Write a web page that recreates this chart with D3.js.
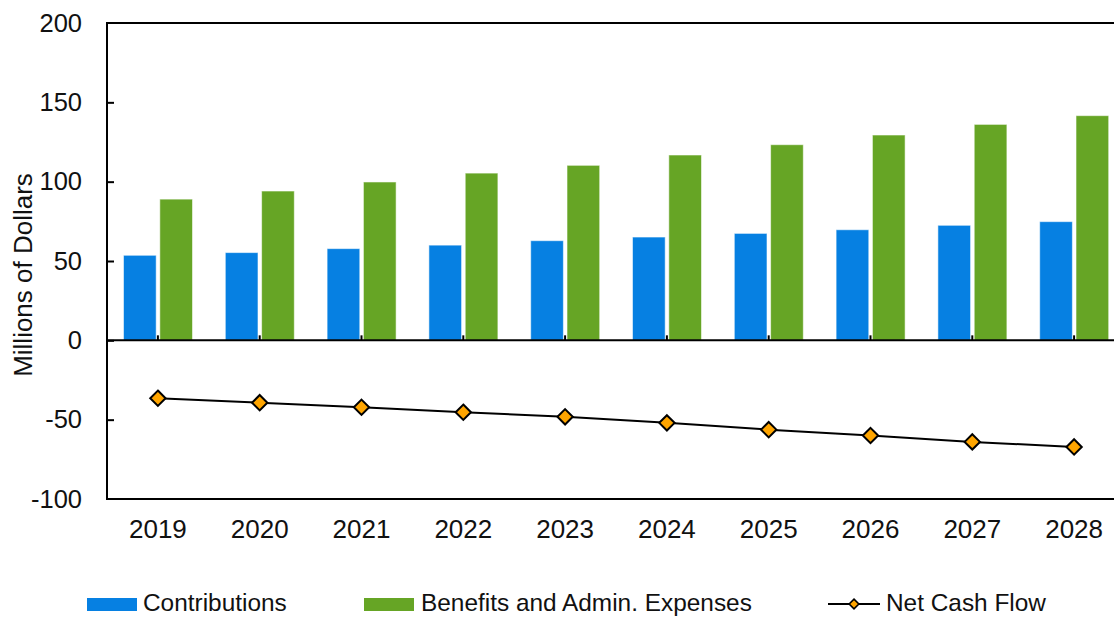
<!DOCTYPE html>
<html>
<head>
<meta charset="utf-8">
<script src="https://cdn.jsdelivr.net/npm/d3@7"></script>
<style>
  html, body { margin: 0; padding: 0; background: #fff; }
  svg { display: block; font-family: "Liberation Sans", Arial, sans-serif; }
</style>
</head>
<body>
<svg id="chart" width="1114" height="618"></svg>
<script>
// Projected cash flows, millions of dollars
const years = ["2019", "2020", "2021", "2022", "2023", "2024", "2025", "2026", "2027", "2028"];
const contributions = [53.6, 55.3, 57.8, 60.0, 62.8, 65.1, 67.4, 69.7, 72.5, 74.8];
const benefits = [89.0, 94.1, 99.8, 105.4, 110.3, 116.8, 123.3, 129.4, 136.1, 141.6];
const netCashFlow = [-36.5, -39.3, -42.2, -45.3, -48.2, -52.0, -56.3, -60.0, -64.0, -67.2];
const yTicks = [-100, -50, 0, 50, 100, 150, 200];

const seriesNames = ["Contributions", "Benefits and Admin. Expenses", "Net Cash Flow"];
const colors = { contrib: "#0680E2", benefits: "#66A525", marker: "#FFA500" };

const svg = d3.select("#chart");
const plotLeft = 107, plotTop = 23, plotBottom = 499, step = 101.8;
const plotRight = plotLeft + step * years.length;

const x = d3.scaleBand().domain(years).range([plotLeft, plotRight]).padding(0);
const inner = d3.scaleBand().domain(["c", "b"]).range([16.5, 85.5]).paddingInner(0.1);
const y = d3.scaleLinear().domain([-100, 200]).range([plotBottom, plotTop]);

// Bars
const barData = years.flatMap((yr, i) => [
  { yr, key: "c", v: contributions[i], fill: colors.contrib },
  { yr, key: "b", v: benefits[i], fill: colors.benefits }
]);
svg.append("g").selectAll("rect").data(barData).join("rect")
  .attr("x", d => x(d.yr) + inner(d.key))
  .attr("y", d => y(Math.max(0, d.v)))
  .attr("width", inner.bandwidth())
  .attr("height", d => Math.abs(y(d.v) - y(0)))
  .attr("fill", d => d.fill)
  .attr("stroke", "rgba(255,255,255,0.55)")
  .attr("stroke-width", 1);

// Plot frame
svg.append("rect")
  .attr("x", plotLeft).attr("y", plotTop)
  .attr("width", plotRight - plotLeft).attr("height", plotBottom - plotTop)
  .attr("fill", "none").attr("stroke", "#000").attr("stroke-width", 2);

// Y axis (ticks inward), plain hyphen for negatives
const yAxis = d3.axisLeft(y).tickValues(yTicks).tickSize(-7).tickPadding(25)
  .tickFormat(d => String(d));
const gy = svg.append("g").attr("transform", `translate(${plotLeft},0)`).call(yAxis);
gy.select(".domain").remove();
gy.selectAll(".tick line").attr("stroke", "#000").attr("stroke-width", 2)
  .filter(d => d === -100 || d === 200).remove();
gy.selectAll(".tick text").attr("font-size", 25.5).attr("fill", "#111")
  .attr("font-family", "'Liberation Sans', Arial, sans-serif");

// Zero line with category ticks pointing up
const xAxis = d3.axisTop(x).tickSize(5).tickFormat("");
const gx = svg.append("g").attr("transform", `translate(0,${y(0)})`).call(xAxis);
gx.select(".domain").attr("stroke", "#000").attr("stroke-width", 2).attr("d", `M${plotLeft},0H${plotRight}`);
gx.selectAll(".tick line").attr("stroke", "#000").attr("stroke-width", 2);

// Category labels below the frame
const xLabels = d3.axisBottom(x).tickSize(0).tickPadding(0);
const gl = svg.append("g").attr("transform", `translate(0,${plotBottom})`).call(xLabels);
gl.select(".domain").remove();
gl.selectAll(".tick text").attr("font-size", 26).attr("fill", "#111")
  .attr("dy", null).attr("y", 39)
  .attr("font-family", "'Liberation Sans', Arial, sans-serif");

// Net cash flow line and markers
const cx = yr => x(yr) + x.bandwidth() / 2;
const line = d3.line().x((d, i) => cx(years[i])).y(d => y(d));
svg.append("path").datum(netCashFlow)
  .attr("d", line).attr("fill", "none").attr("stroke", "#000").attr("stroke-width", 2);
const diamond = d3.symbol().type(d3.symbolDiamond2).size(150);
svg.append("g").selectAll("path").data(netCashFlow).join("path")
  .attr("d", diamond)
  .attr("transform", (d, i) => `translate(${cx(years[i])},${y(d)})`)
  .attr("fill", colors.marker).attr("stroke", "#000").attr("stroke-width", 2);

// Axis title
svg.append("text")
  .attr("transform", "translate(23,275) rotate(-90)")
  .attr("text-anchor", "middle").attr("dominant-baseline", "central")
  .attr("font-size", 26).attr("fill", "#111")
  .text("Millions of Dollars");

// Legend
const lg = svg.append("g").attr("font-size", 24.4).attr("fill", "#111");
lg.append("rect").attr("x", 87).attr("y", 598).attr("width", 50).attr("height", 13).attr("fill", colors.contrib);
lg.append("text").attr("x", 143).attr("y", 611).text(seriesNames[0]);
lg.append("rect").attr("x", 364).attr("y", 598).attr("width", 50).attr("height", 13).attr("fill", colors.benefits);
lg.append("text").attr("x", 421).attr("y", 611).text(seriesNames[1]);
lg.append("line").attr("x1", 828).attr("x2", 880).attr("y1", 604).attr("y2", 604)
  .attr("stroke", "#000").attr("stroke-width", 2);
lg.append("path").attr("d", d3.symbol().type(d3.symbolDiamond2).size(60))
  .attr("transform", "translate(854,604)")
  .attr("fill", colors.marker).attr("stroke", "#000").attr("stroke-width", 1.6);
lg.append("text").attr("x", 886).attr("y", 611).text(seriesNames[2]);
</script>
</body>
</html>
